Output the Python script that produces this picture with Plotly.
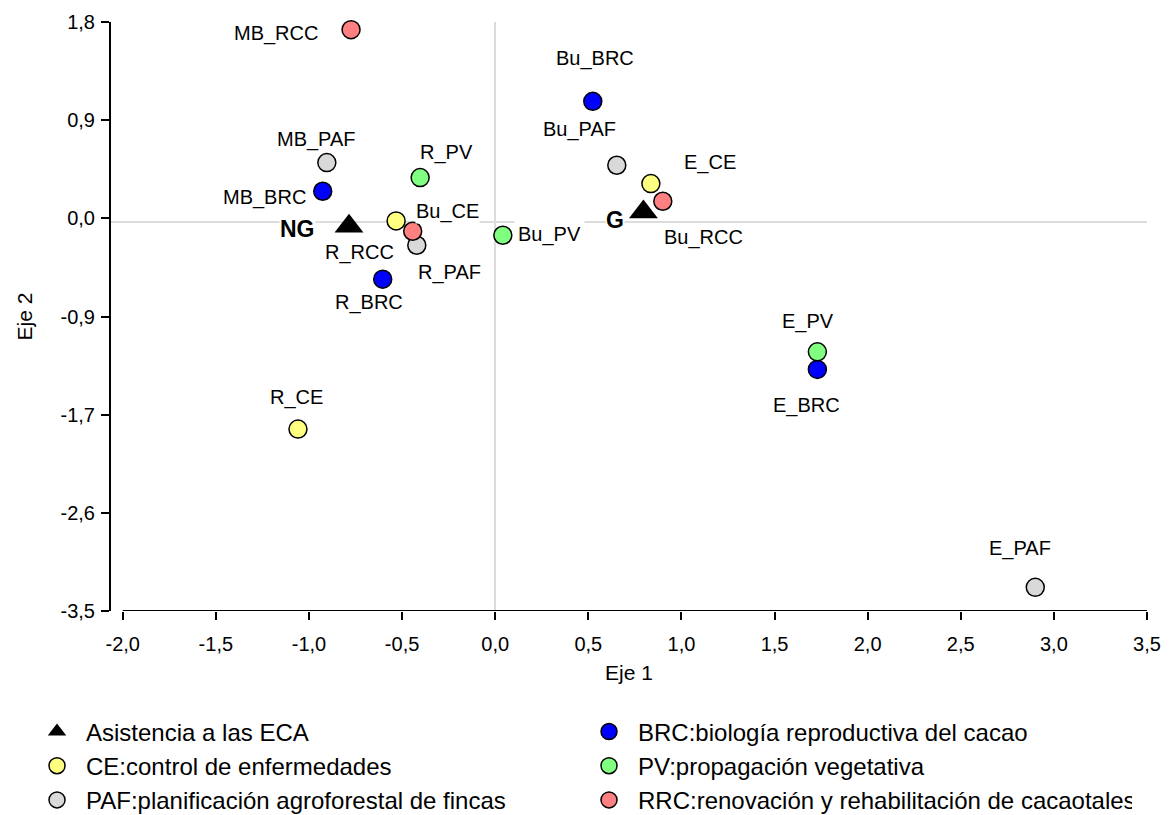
import plotly.graph_objects as go

# ---------------- data ----------------
ce_labels = ["Bu_CE", "E_CE", "R_CE"]
ce_x = [-0.532, 0.836, -1.059]
ce_y = [0.010, 0.346, -1.863]

paf_labels = ["MB_PAF", "R_PAF", "Bu_PAF", "E_PAF"]
paf_x = [-0.904, -0.421, 0.653, 2.900]
paf_y = [0.535, -0.209, 0.511, -3.287]

brc_labels = ["MB_BRC", "R_BRC", "Bu_BRC", "E_BRC"]
brc_x = [-0.926, -0.604, 0.524, 1.730]
brc_y = [0.277, -0.514, 1.086, -1.326]

pv_labels = ["R_PV", "Bu_PV", "E_PV"]
pv_x = [-0.403, 0.041, 1.730]
pv_y = [0.400, -0.119, -1.168]

rrc_labels = ["MB_RCC", "R_RCC", "Bu_RCC"]
rrc_x = [-0.774, -0.443, 0.900]
rrc_y = [1.731, -0.083, 0.187]

eca_labels = ["NG", "G"]
eca_x = [-0.785, 0.796]
eca_y = [-0.038, 0.091]

legend_names = {
    "ECA": "Asistencia a las ECA",
    "BRC": "BRC:biología reproductiva del cacao",
    "CE": "CE:control de enfermedades",
    "PV": "PV:propagación vegetativa",
    "PAF": "PAF:planificación agroforestal de fincas",
    "RRC": "RRC:renovación y rehabilitación de cacaotales",
}

x_tickvals = [-2.0, -1.5, -1.0, -0.5, 0.0, 0.5, 1.0, 1.5, 2.0, 2.5, 3.0, 3.5]
x_ticktext = ["-2,0", "-1,5", "-1,0", "-0,5", "0,0", "0,5", "1,0", "1,5",
              "2,0", "2,5", "3,0", "3,5"]
y_tickvals = [-3.5, -2.6167, -1.7333, -0.85, 0.0333, 0.9167, 1.8]
y_ticktext = ["-3,5", "-2,6", "-1,7", "-0,9", "0,0", "0,9", "1,8"]

# ---------------- styling ----------------
FONT = "Liberation Sans, Arial, sans-serif"
colors = {"CE": "#FFFF80", "PAF": "#D9D9D9", "BRC": "#0000FF",
          "PV": "#80FF80", "RRC": "#FF8080", "ECA": "#000000"}

# label offsets in pixels (dx right, dy up)
label_offsets = {
    "MB_RCC": (-75, -4), "MB_PAF": (-10, 23), "MB_BRC": (-58, -6),
    "NG": (-52, -3), "R_RCC": (-53, -21), "R_BRC": (-14, -23),
    "R_PV": (26, 25), "Bu_CE": (51, 9), "R_PAF": (33, -27),
    "Bu_PV": (47, 1), "Bu_BRC": (2, 43), "Bu_PAF": (-37, 36),
    "E_CE": (59, 21), "G": (-28, -8), "Bu_RCC": (41, -36),
    "E_PV": (-9, 30), "E_BRC": (-11, -36), "R_CE": (-1, 32),
    "E_PAF": (-15, 39),
}
label_pad = {"Bu_PV": 3}

fig = go.Figure()


def circle_marker(c):
    return dict(symbol="circle", size=18, color=c,
                line=dict(color="black", width=1.5))


# ECA triangles
fig.add_trace(go.Scatter(
    x=eca_x, y=eca_y, mode="markers", name=legend_names["ECA"],
    cliponaxis=False,
    marker=dict(symbol="triangle-up", size=25, color="black",
                line=dict(width=0))))

for key, xs, ys in [("BRC", brc_x, brc_y), ("CE", ce_x, ce_y),
                    ("PV", pv_x, pv_y), ("PAF", paf_x, paf_y),
                    ("RRC", rrc_x, rrc_y)]:
    fig.add_trace(go.Scatter(x=xs, y=ys, mode="markers", cliponaxis=False,
                             name=legend_names[key],
                             marker=circle_marker(colors[key])))

# point labels
for labs, xs, ys in [(ce_labels, ce_x, ce_y), (paf_labels, paf_x, paf_y),
                     (brc_labels, brc_x, brc_y), (pv_labels, pv_x, pv_y),
                     (rrc_labels, rrc_x, rrc_y), (eca_labels, eca_x, eca_y)]:
    for lab, xv, yv in zip(labs, xs, ys):
        dx, dy = label_offsets[lab]
        bold = lab in eca_labels
        fig.add_annotation(
            x=xv, y=yv, text=lab, showarrow=False, xshift=dx, yshift=dy,
            bgcolor="white", borderpad=label_pad.get(lab, 0),
            font=dict(family=FONT, size=23 if bold else 20, color="black",
                      weight="bold" if bold else "normal"))

# bottom axis line from -2 to 3.5 (detached from the y axis)
fig.add_shape(type="line", xref="x", yref="y",
              x0=x_tickvals[0], x1=x_tickvals[-1], y0=-3.5, y1=-3.5,
              line=dict(color="black", width=2))

fig.update_layout(
    width=1173, height=815,
    margin=dict(l=111, r=26, t=22, b=204, autoexpand=False),
    plot_bgcolor="white", paper_bgcolor="white",
    font=dict(family=FONT, size=20, color="black"),
    xaxis=dict(range=[-2.063, 3.5], tickvals=x_tickvals, ticktext=x_ticktext,
               showgrid=False, showline=False, zeroline=True,
               zerolinecolor="#DCDCDC", zerolinewidth=2,
               ticks="outside", ticklen=8, tickwidth=2, tickcolor="black",
               tickfont=dict(size=20), ticklabelstandoff=7,
               title=dict(text="Eje 1", font=dict(size=21), standoff=11)),
    yaxis=dict(range=[-3.5, 1.8], tickvals=y_tickvals, ticktext=y_ticktext,
               showgrid=False, showline=True, linecolor="black", linewidth=2,
               zeroline=True, zerolinecolor="#DCDCDC", zerolinewidth=2,
               ticks="outside", ticklen=8, tickwidth=2, tickcolor="black",
               tickfont=dict(size=20), ticklabelstandoff=2,
               title=dict(text="Eje 2", font=dict(size=21), standoff=22)),
    legend=dict(orientation="h", x=-0.0801, xanchor="left",
                y=-0.1671, yanchor="top",
                font=dict(family=FONT, size=24, color="black"),
                itemwidth=48, entrywidthmode="pixels", entrywidth=489,
                traceorder="normal", bgcolor="rgba(0,0,0,0)"),
)

fig.write_html("out.html")
